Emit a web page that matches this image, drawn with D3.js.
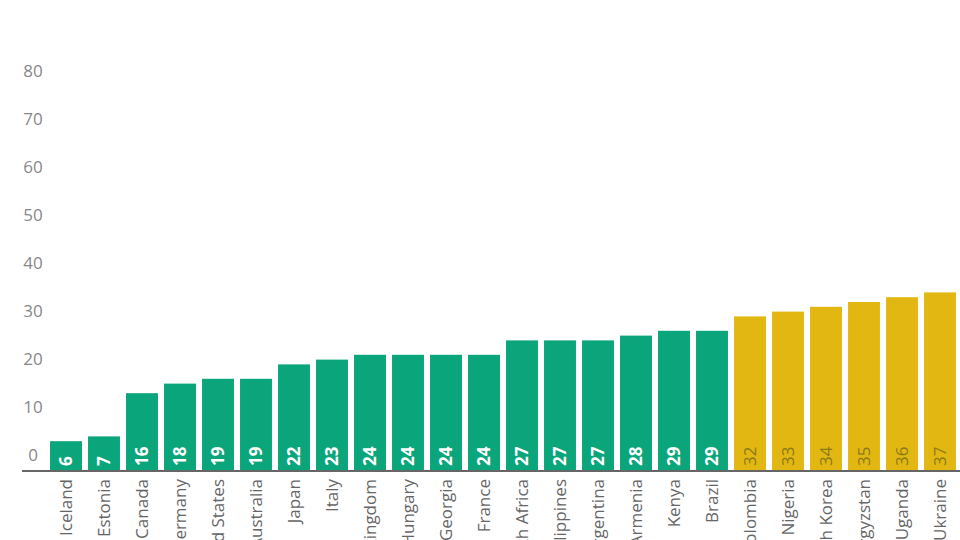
<!DOCTYPE html>
<html><head><meta charset="utf-8">
<script src="https://cdn.jsdelivr.net/npm/d3@7"></script>
<style>body{margin:0;background:#fff}svg{display:block}</style>
</head><body>
<script>
const countries=["Iceland","Estonia","Canada","Germany","United States","Australia","Japan","Italy","United Kingdom","Hungary","Georgia","France","South Africa","Philippines","Argentina","Armenia","Kenya","Brazil","Colombia","Nigeria","South Korea","Kyrgyzstan","Uganda","Ukraine"];
const values=[6,7,16,18,19,19,22,23,24,24,24,24,27,27,27,28,29,29,32,33,34,35,36,37];
const groups=["a","a","a","a","a","a","a","a","a","a","a","a","a","a","a","a","a","a","b","b","b","b","b","b"];
const ticks=[0,10,20,30,40,50,60,70,80];
const W=960,H=540;
const font="'Liberation Sans Narrow','Open Sans',sans-serif";
const svg=d3.select("body").append("svg").attr("width",W).attr("height",H);
const y=d3.scaleLinear().domain([0,80]).range([470,86]);
const x=d3.scaleBand().domain(countries).range([47,959]).paddingInner(0.16).paddingOuter(0.08);
const col={a:"#0aa57a",b:"#e3b712"};
const tcol={a:"#ffffff",b:"#8a7a1a"};
svg.append("g").selectAll("text").data(ticks).join("text")
 .attr("x",33).attr("y",d=>y(d)-15).attr("dy","0.35em").attr("text-anchor","middle")
 .attr("font-family",font).attr("font-size",17).attr("fill","#888").text(d=>d);
svg.append("g").selectAll("rect").data(values).join("rect")
 .attr("x",(d,i)=>x(countries[i])).attr("width",x.bandwidth())
 .attr("y",d=>y(d)).attr("height",d=>y(0)-y(d)).attr("fill",(d,i)=>col[groups[i]]);
svg.append("g").selectAll("text").data(values).join("text")
 .attr("transform",(d,i)=>`translate(${x(countries[i])+x.bandwidth()/2},466) rotate(-90)`)
 .attr("dy","0.35em").attr("font-family",font).attr("font-size",17)
 .attr("font-weight",(d,i)=>groups[i]==="a"?"bold":"normal")
 .attr("fill",(d,i)=>tcol[groups[i]]).text(d=>d);
svg.append("line").attr("x1",22).attr("x2",W).attr("y1",471).attr("y2",471).attr("stroke","#666").attr("stroke-width",2);
svg.append("g").selectAll("text").data(countries).join("text")
 .attr("transform",d=>`translate(${x(d)+x.bandwidth()/2},479) rotate(-90)`)
 .attr("dy","0.35em").attr("text-anchor","end").attr("font-family",font).attr("font-size",17)
 .attr("fill","#666").text(d=>d);
</script>
</body></html>
